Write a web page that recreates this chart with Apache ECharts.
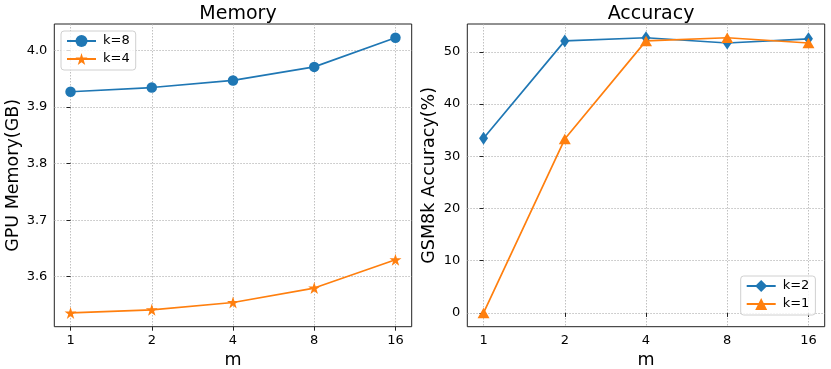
<!DOCTYPE html>
<html>
<head>
<meta charset="utf-8">
<script src="https://cdn.jsdelivr.net/npm/echarts@6/dist/echarts.min.js"></script>
<style>
html,body{margin:0;padding:0;background:#fff;}
#c{width:831px;height:369px;}
</style>
</head>
<body>
<div id="c"></div>
<script>
// ---- data ----
const mLabels = ['1', '2', '4', '8', '16'];
const memK8 = [3.927, 3.9345, 3.947, 3.971, 4.0225];
const memK4 = [3.536, 3.5415, 3.5545, 3.580, 3.630];
const accK2 = [33.45, 52.1, 52.7, 51.7, 52.5];
const accK1 = [0.0, 33.3, 52.1, 52.7, 51.7];
const memTicks = [3.6, 3.7, 3.8, 3.9, 4.0];
const accTicks = [0, 10, 20, 30, 40, 50];

const FONT = 'DejaVu Sans';
const BLUE = '#1f77b4', ORANGE = '#ff7f0e';
const toPts = arr => arr.map((v, i) => [i, v]);
const idx = mLabels.map((_, i) => i);
const STAR = 'path://M50,0 L61.8,35.4 L100,35.4 L69.1,57.3 L80.9,95.1 L50,72.4 L19.1,95.1 L30.9,57.3 L0,35.4 L38.2,35.4 Z';

function xAxis(gi) {
  return {
    type: 'value', gridIndex: gi, min: -0.2, max: 4.2, interval: 1,
    name: 'm', nameLocation: 'middle', nameGap: 22,
    nameTextStyle: {fontFamily: FONT, fontSize: 17.5, color: '#000'},
    axisLine: {show: false},
    axisTick: {show: true, length: 4, inside: false, customValues: idx, lineStyle: {color: '#222', width: 1}},
    axisLabel: {customValues: idx, formatter: v => mLabels[Math.round(v)], fontFamily: FONT, fontSize: 13, color: '#000', margin: 7},
    splitLine: {show: true, lineStyle: {color: '#b0b0b0', type: [1.5, 1.5], width: 0.8}}
  };
}
function yAxis(gi, min, max, interval, ticks, name, gap, dec) {
  return {
    type: 'value', gridIndex: gi, min: min, max: max, interval: interval,
    name: name, nameLocation: 'middle', nameGap: gap, nameRotate: 90,
    nameTextStyle: {fontFamily: FONT, fontSize: 17.5, color: '#000'},
    axisLine: {show: false},
    axisTick: {show: true, length: 4, customValues: ticks, lineStyle: {color: '#222', width: 1}},
    axisLabel: {customValues: ticks, formatter: v => v.toFixed(dec), fontFamily: FONT, fontSize: 13, color: '#000', margin: 7},
    splitLine: {show: true, lineStyle: {color: '#b0b0b0', type: [1.5, 1.5], width: 0.8}}
  };
}
function legend(names, left, top) {
  return {
    data: names, orient: 'vertical', left: left, top: top,
    itemWidth: 29, itemHeight: 15, itemGap: 5,
    padding: [3.5, 6, 4.5, 5],
    borderColor: '#d0d0d0', borderWidth: 1, borderRadius: 3,
    backgroundColor: 'rgba(255,255,255,0.8)',
    textStyle: {fontFamily: FONT, fontSize: 13, color: '#000', padding: [0, 0, 0, 2]}
  };
}
const gridCommon = {width: 357.4, height: 302.7, top: 24, show: true, borderColor: '#222', borderWidth: 1,
  backgroundColor: 'transparent', containLabel: false, outerBoundsMode: 'none'};

const chart = echarts.init(document.getElementById('c'), null, {renderer: 'canvas'});
chart.setOption({
  animation: false,
  backgroundColor: '#fff',
  title: [
    {text: 'Memory', left: 233, top: 0, textAlign: 'center', textStyle: {fontFamily: FONT, fontSize: 19, fontWeight: 'normal', color: '#000'}},
    {text: 'Accuracy', left: 646, top: 0, textAlign: 'center', textStyle: {fontFamily: FONT, fontSize: 19, fontWeight: 'normal', color: '#000'}}
  ],
  grid: [
    Object.assign({left: 54.3}, gridCommon),
    Object.assign({left: 467.3}, gridCommon)
  ],
  xAxis: [xAxis(0), xAxis(1)],
  yAxis: [
    yAxis(0, 3.5117, 4.0468, 0.1, memTicks, 'GPU Memory(GB)', 32, 1),
    yAxis(1, -2.635, 55.335, 10, accTicks, 'GSM8k Accuracy(%)', 29, 0)
  ],
  legend: [
    legend(['k=8', 'k=4'], 61, 31),
    legend(['k=2', 'k=1'], 740.7, 276)
  ],
  series: [
    {name: 'k=8', type: 'line', xAxisIndex: 0, yAxisIndex: 0, data: toPts(memK8), symbol: 'circle', symbolSize: 10.5,
     itemStyle: {color: BLUE}, lineStyle: {color: BLUE, width: 1.7}},
    {name: 'k=4', type: 'line', xAxisIndex: 0, yAxisIndex: 0, data: toPts(memK4), symbol: STAR, symbolSize: 12,
     itemStyle: {color: ORANGE}, lineStyle: {color: ORANGE, width: 1.7}},
    {name: 'k=2', type: 'line', xAxisIndex: 1, yAxisIndex: 1, data: toPts(accK2), symbol: 'diamond', symbolSize: [9, 13],
     itemStyle: {color: BLUE}, lineStyle: {color: BLUE, width: 1.7}},
    {name: 'k=1', type: 'line', xAxisIndex: 1, yAxisIndex: 1, data: toPts(accK1), symbol: 'triangle', symbolSize: [12, 10.5],
     itemStyle: {color: ORANGE}, lineStyle: {color: ORANGE, width: 1.7}}
  ]
});
</script>
</body>
</html>
